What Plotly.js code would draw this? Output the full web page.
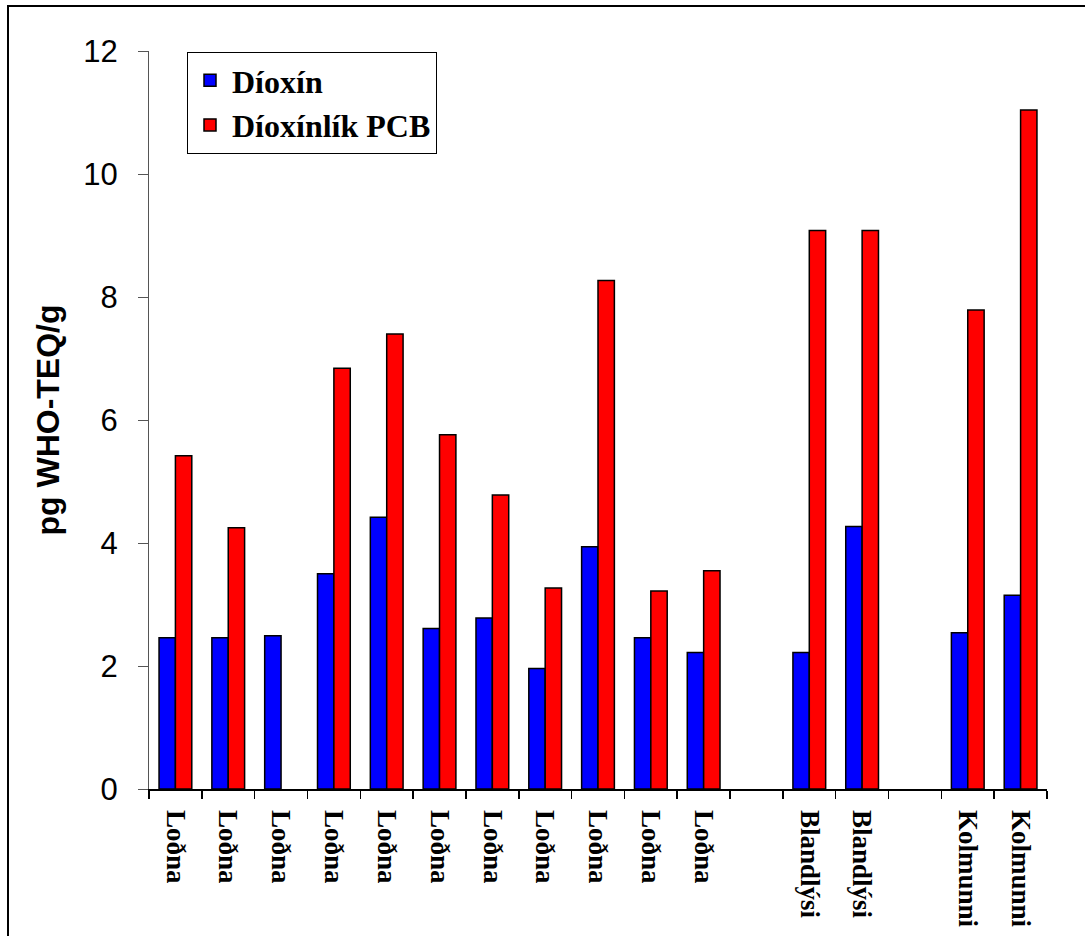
<!DOCTYPE html>
<html>
<head>
<meta charset="utf-8">
<script src="https://cdn.plot.ly/plotly-3.0.1.min.js"></script>
<style>
  html, body { margin: 0; padding: 0; background: #fff; }
  #chart { width: 1085px; height: 936px; }
</style>
</head>
<body>
<div id="chart"></div>
<script>
// Category slots (empty strings are blank gaps in the original chart)
const categories = ["Loðna","Loðna","Loðna","Loðna","Loðna","Loðna","Loðna","Loðna","Loðna","Loðna","Loðna","","Blandlýsi","Blandlýsi","","Kolmunni","Kolmunni"];
const dioxin = [2.46, 2.46, 2.49, 3.50, 4.42, 2.61, 2.78, 1.96, 3.94, 2.46, 2.22, null, 2.22, 4.27, null, 2.54, 3.15];
const pcb    = [5.42, 4.25, null, 6.84, 7.40, 5.76, 4.78, 3.27, 8.27, 3.22, 3.55, null, 9.08, 9.08, null, 7.79, 11.04];
const seriesNames = ["Díoxín", "Díoxínlík PCB"];
const yTitle = "pg WHO-TEQ/g";

const idx = categories.map((_, i) => i);
const boundaries = categories.map((_, i) => i - 0.5).concat([categories.length - 0.5]);

const serif = "'Liberation Serif', 'Times New Roman', serif";
const sans = "'Liberation Sans', Arial, sans-serif";

const traces = [
  { type: "bar", name: seriesNames[0], x: idx, y: dioxin,
    marker: { color: "#0000ff", line: { color: "#000", width: 1.5 } } },
  { type: "bar", name: seriesNames[1], x: idx, y: pcb,
    marker: { color: "#ff0000", line: { color: "#000", width: 1.5 } } }
];

const L = 149, R = 38, T = 51, B = 147, W = 1085, H = 936;
const pw = W - L - R, ph = H - T - B;
const px = v => (v - L) / pw;
const py = v => (H - B - v) / ph;

const layout = {
  width: W, height: H,
  margin: { l: L, r: R, t: T, b: B, pad: 0 },
  paper_bgcolor: "#fff", plot_bgcolor: "#fff",
  barmode: "group", bargap: 0.38, bargroupgap: 0,
  showlegend: true,
  legend: {
    x: px(187), y: py(52), xanchor: "left", yanchor: "top",
    bgcolor: "#fff", bordercolor: "#000", borderwidth: 1,
    font: { family: serif, size: 32, color: "#000", weight: "bold" },
    traceorder: "normal", itemwidth: 34
  },
  xaxis: {
    range: [-0.5, categories.length - 0.5],
    tickmode: "array", tickvals: idx, ticktext: categories,
    tickangle: 90, ticks: "outside", ticklen: 14, tickcolor: "rgba(0,0,0,0)",
    tickfont: { family: serif, size: 27, color: "#000", weight: "bold" },
    showline: true, linecolor: "#000", linewidth: 1.5,
    showgrid: false, zeroline: false, fixedrange: true,
    minor: { tickmode: "array", tickvals: boundaries, ticks: "outside", ticklen: 8, tickcolor: "#000", tickwidth: 1.5, showgrid: false }
  },
  yaxis: {
    range: [0, 12], dtick: 2, tick0: 0,
    ticks: "outside", ticklen: 10, tickcolor: "#555", tickwidth: 1,
    ticklabelstandoff: 14,
    tickfont: { family: sans, size: 31, color: "#000" },
    showline: true, linecolor: "#555", linewidth: 1,
    showgrid: false, zeroline: false, fixedrange: true,
    title: { text: yTitle, font: { family: sans, size: 32, color: "#000", weight: "bold" }, standoff: 14 }
  },
  shapes: [{
    type: "rect", xref: "paper", yref: "paper",
    x0: px(8), x1: px(1095), y0: py(950), y1: py(6),
    line: { color: "#000", width: 2 }, fillcolor: "rgba(0,0,0,0)", layer: "below"
  }]
};

Plotly.newPlot("chart", traces, layout, { displayModeBar: false, staticPlot: true });
</script>
</body>
</html>
